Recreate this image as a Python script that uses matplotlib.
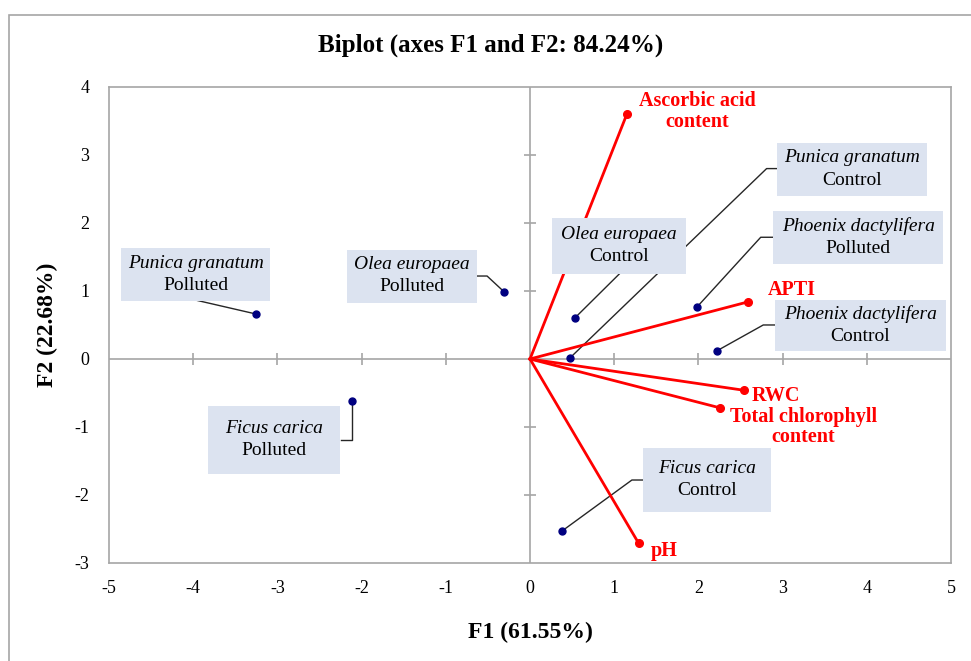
import matplotlib.pyplot as plt
from matplotlib.patches import Rectangle
import numpy as np

plt.rcParams['font.family'] = ['Liberation Serif', 'DejaVu Serif']
plt.rcParams['axes.unicode_minus'] = False

# observations (F1, F2)
obs_species = ["Punica granatum", "Olea europaea", "Ficus carica",
               "Olea europaea", "Punica granatum", "Phoenix dactylifera",
               "Phoenix dactylifera", "Ficus carica"]
obs_group = ["Polluted", "Polluted", "Polluted",
             "Control", "Control", "Polluted",
             "Control", "Control"]
obs_f1 = [-3.25, -0.31, -2.11, 0.53, 0.47, 1.98, 2.22, 0.38]
obs_f2 = [0.66, 0.99, -0.62, 0.60, 0.01, 0.76, 0.12, -2.53]

# variables (loadings)
var_names = ["Ascorbic acid\ncontent", "APTI", "RWC",
             "Total chlorophyll\ncontent", "pH"]
var_f1 = [1.15, 2.59, 2.54, 2.26, 1.29]
var_f2 = [3.60, 0.84, -0.46, -0.72, -2.71]

# label layout: box centre, box size, elbow of the leader line
box_x = [-3.97, -1.40, -3.04, 1.06, 3.82, 3.90, 3.92, 2.10]
box_y = [1.24, 1.22, -1.19, 1.66, 2.79, 1.79, 0.49, -1.78]
box_w = [1.77, 1.54, 1.56, 1.59, 1.78, 2.02, 2.03, 1.52]
box_h = [0.77, 0.78, 0.99, 0.82, 0.78, 0.78, 0.76, 0.94]
# leader: list of points from the dot to the box
leaders = [
    [(-3.95, 0.86)],
    [(-0.51, 1.22), (-0.63, 1.22)],
    [(-2.11, -1.19), (-2.24, -1.19)],
    [(1.06, 1.25)],
    [(2.81, 2.80), (2.93, 2.80)],
    [(2.74, 1.79), (2.89, 1.79)],
    [(2.77, 0.50), (2.91, 0.50)],
    [(1.21, -1.78), (1.34, -1.78)],
]
var_lab_x = [1.99, 2.82, 2.63, 3.25, 1.43]
var_lab_y = [3.64, 1.02, -0.55, -1.0, -2.82]
var_lab_ha = ["center", "left", "left", "center", "left"]

fig = plt.figure(figsize=(9.71, 6.61), dpi=100)
ax = fig.add_axes([0.1123, 0.1483, 0.8671, 0.7201])
ax.set_xlim(-5, 5)
ax.set_ylim(-3, 4)

for s in ax.spines.values():
    s.set_color('#a6a6a6')
    s.set_linewidth(1.2)
ax.tick_params(length=0, labelsize=13, pad=12)
ax.set_xticks(np.arange(-5, 6))
ax.set_yticks(np.arange(-3, 5))
ax.tick_params(axis='y', pad=14)

# zero lines with ticks
ax.axhline(0, color='#a6a6a6', lw=1.2, zorder=1)
ax.axvline(0, color='#a6a6a6', lw=1.2, zorder=1)
tx = np.array([t for t in range(-4, 5) if t != 0])
ty = np.array([t for t in range(-2, 4) if t != 0])
ax.plot(tx, np.zeros(len(tx)), ls='none', marker='|', ms=9, mew=1.2, color='#a6a6a6', zorder=1)
ax.plot(np.zeros(len(ty)), ty, ls='none', marker='_', ms=9, mew=1.2, color='#a6a6a6', zorder=1)

# variable vectors
for x, y in zip(var_f1, var_f2):
    ax.plot([0, x], [0, y], color='red', lw=2, zorder=3)
ax.plot(var_f1, var_f2, 'o', color='red', ms=5.5, zorder=4)
for name, x, y, ha in zip(var_names, var_lab_x, var_lab_y, var_lab_ha):
    ax.text(x, y, name, color='red', fontsize=14.5, fontweight='bold',
            ha=ha, va='center', linespacing=1.05, zorder=5)

# observations, boxes and leaders
for i in range(len(obs_f1)):
    pts = [(obs_f1[i], obs_f2[i])] + leaders[i]
    ax.plot([p[0] for p in pts], [p[1] for p in pts], color='#262626', lw=1, zorder=2)
    ax.add_patch(Rectangle((box_x[i] - box_w[i] / 2, box_y[i] - box_h[i] / 2),
                           box_w[i], box_h[i], facecolor='#dce3f0',
                           edgecolor='none', zorder=3.5))
    ax.text(box_x[i], box_y[i] + 0.17, obs_species[i], fontsize=14,
            style='italic', ha='center', va='center', zorder=5)
    ax.text(box_x[i], box_y[i] - 0.16, obs_group[i], fontsize=14,
            ha='center', va='center', zorder=5)
ax.plot(obs_f1, obs_f2, 'o', color='#000080', ms=5, zorder=4)

ax.set_xlabel("F1 (61.55%)", fontsize=17, fontweight='bold', labelpad=18)
ax.set_ylabel("F2 (22.68%)", fontsize=17, fontweight='bold', labelpad=12)
fig.text(0.505, 0.932, "Biplot (axes F1 and F2: 84.24%)", fontsize=18,
         fontweight='bold', ha='center', va='center')

# outer frame
fig.add_artist(Rectangle((0.009, -0.05), 1.2, 1.027, transform=fig.transFigure,
                         facecolor='none', edgecolor='#a6a6a6', lw=1.2))

fig.savefig("out.png", dpi=100)
